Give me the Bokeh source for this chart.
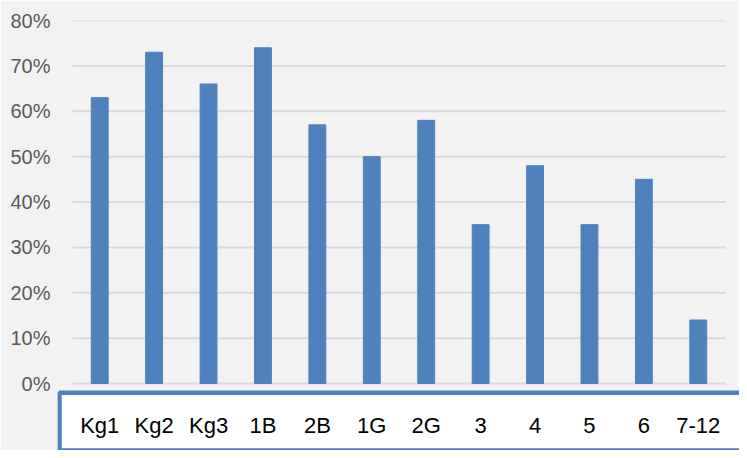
from bokeh.plotting import figure
from bokeh.models import ColumnDataSource, Range1d, FixedTicker, NumeralTickFormatter
from bokeh.core.properties import value
from bokeh.embed import file_html
from bokeh.resources import INLINE

categories = ["Kg1", "Kg2", "Kg3", "1B", "2B", "1G", "2G", "3", "4", "5", "6", "7-12"]
values = [0.63, 0.73, 0.66, 0.74, 0.57, 0.50, 0.58, 0.35, 0.48, 0.35, 0.45, 0.14]
y_ticks = [0.0, 0.1, 0.2, 0.3, 0.4, 0.5, 0.6, 0.7, 0.8]

BG = "#f2f2f2"
BLUE = "#4f81bd"
GRID = "#d9d9d9"

n = len(categories)
W, H = 739, 450
FRAME_LEFT = 57          # frame starts at the label box's left edge
CAT_LEFT, CAT_RIGHT = 72, 725   # pixel span of the category slots
TOP, ZERO_Y = 20, 383           # pixel rows of 80% and 0%
px_cat = (CAT_RIGHT - CAT_LEFT) / n
px_unit = (ZERO_Y - TOP) / y_ticks[-1]

x_range = Range1d(-(CAT_LEFT - FRAME_LEFT) / px_cat, n + (W - CAT_RIGHT) / px_cat)
y_range = Range1d(-(H - ZERO_Y) / px_unit, y_ticks[-1])

p = figure(
    x_range=x_range, y_range=y_range,
    width=W, height=H,
    output_backend="svg", toolbar_location=None,
    min_border_left=FRAME_LEFT, min_border_right=0, min_border_top=TOP, min_border_bottom=0,
    x_axis_location=None,
)
p.background_fill_color = BG
p.border_fill_color = BG
p.outline_line_color = None
p.xgrid.grid_line_color = None
p.ygrid.grid_line_color = None

xs = [i + 0.5 for i in range(n)]

# horizontal gridlines over the category span
p.segment(x0=[0] * len(y_ticks), x1=[n] * len(y_ticks), y0=y_ticks, y1=y_ticks,
          line_color=GRID, line_width=2)

# bars
src = ColumnDataSource(data=dict(x=xs, val=values, cat=categories))
p.vbar(x="x", top="val", width=0.31, source=src, color=BLUE)

# white label box with blue border
p.quad(left=[-13 / px_cat], right=[n + 2], top=[-9.3 / px_unit], bottom=[-(H - ZERO_Y) / px_unit],
       fill_color="white", line_color=BLUE, line_width=4.5)

# category labels inside the box
lab = ColumnDataSource(data=dict(x=xs, y=[-42.4 / px_unit] * n, t=categories))
p.text(x="x", y="y", text="t", source=lab,
       text_font=value("Liberation Sans"), text_font_size="22px",
       text_color="black", text_align="center", text_baseline="alphabetic")

p.yaxis.ticker = FixedTicker(ticks=y_ticks)
p.yaxis.formatter = NumeralTickFormatter(format="0%")
p.yaxis.axis_line_color = None
p.yaxis.major_tick_line_color = None
p.yaxis.minor_tick_line_color = None
p.yaxis.major_tick_out = 0
p.yaxis.major_tick_in = 0
p.yaxis.major_label_text_font = "Liberation Sans"
p.yaxis.major_label_text_font_size = "20px"
p.yaxis.major_label_text_color = "#595959"
p.yaxis.major_label_standoff = 7

open("out.html", "w").write(file_html(p, INLINE))
